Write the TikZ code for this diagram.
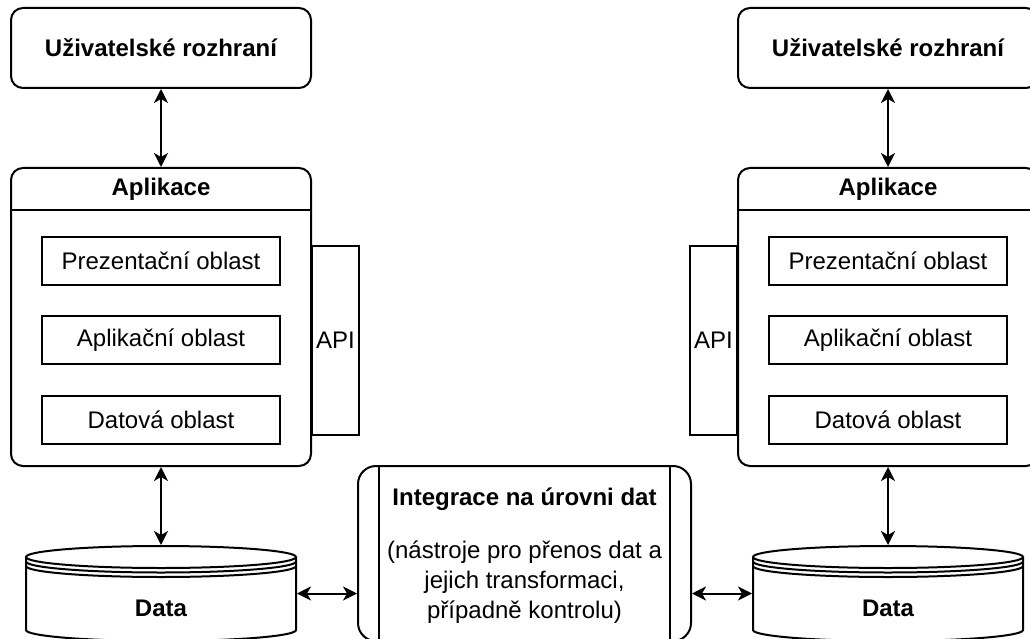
\documentclass[tikz,border=0pt]{standalone}
\usepackage{fontspec}
\setmainfont{Liberation Sans}
\usetikzlibrary{arrows.meta}

\tikzset{
	txt/.style={font=\fontsize{24}{30}\selectfont},
	bold/.style={font=\fontsize{24}{30}\selectfont\bfseries},
	uibox/.style={draw, bold, rounded corners=12pt, minimum width=300pt, minimum height=80pt},
	appbox/.style={draw, rounded corners=12pt, minimum width=300pt, minimum height=298pt},
	area/.style={draw, txt, minimum width=238pt, minimum height=48pt},
	apibox/.style={draw, txt, inner sep=0pt, minimum width=47pt, minimum height=189pt},
	store/.style={minimum width=270pt, minimum height=95pt},
	link/.style={<->, >={Stealth[length=14pt, width=14pt, inset=4pt]}}
}

\begin{document}
\begin{tikzpicture}[x=1pt, y=-1pt, line width=2pt]
				\useasboundingbox (0,0) rectangle (1030,639);
				\clip (0,0) rectangle (1030,639);

				\node[uibox] (ui1) at (161,48) {Uživatelské rozhraní};
				\node[appbox] (app1) at (161,317) {};
				\node[bold] (app1t) at (161,189) {Aplikace};
				\draw (app1.west |- 0,210) -- (app1.east |- 0,210);
				\node[area] (pres1) at (161,261) {Prezentační oblast};
				\node[area] (logic1) at (161,340) {Aplikační oblast};
				\node[area] (dat1) at (161,420) {Datová oblast};
				\node[apibox, anchor=west] (api1) at (311,340.5) {API};

				\node[store] (db1) at (161,593.5) {};
				\draw (26,557) -- (26,630) arc[start angle=180, end angle=0, x radius=135, y radius=11] -- (296,557);
				\draw (161,557) ellipse[x radius=135, y radius=11];
				\draw (26,561.5) arc[start angle=180, end angle=0, x radius=135, y radius=11];
				\draw (26,566) arc[start angle=180, end angle=0, x radius=135, y radius=11];
				\node[bold] (db1t) at (161,608) {Data};

				\node[uibox] (ui2) at (888,48) {Uživatelské rozhraní};
				\node[appbox] (app2) at (888,317) {};
				\node[bold] (app2t) at (888,189) {Aplikace};
				\draw (app2.west |- 0,210) -- (app2.east |- 0,210);
				\node[area] (pres2) at (888,261) {Prezentační oblast};
				\node[area] (logic2) at (888,340) {Aplikační oblast};
				\node[area] (dat2) at (888,420) {Datová oblast};
				\node[apibox, anchor=east] (api2) at (738,340.5) {API};

				\node[store] (db2) at (888,593.5) {};
				\draw (753,557) -- (753,630) arc[start angle=180, end angle=0, x radius=135, y radius=11] -- (1023,557);
				\draw (888,557) ellipse[x radius=135, y radius=11];
				\draw (753,561.5) arc[start angle=180, end angle=0, x radius=135, y radius=11];
				\draw (753,566) arc[start angle=180, end angle=0, x radius=135, y radius=11];
				\node[bold] (db2t) at (888,608) {Data};

				\node[draw, rounded corners=18pt, minimum width=333pt, minimum height=175pt] (integ) at (524.5,553.5) {};
				\draw ([xshift=22pt]integ.north west) -- ([xshift=22pt]integ.south west);
				\draw ([xshift=-22pt]integ.north east) -- ([xshift=-22pt]integ.south east);
				\node[bold, anchor=base] (integt) at (524.5,505) {Integrace na úrovni dat};
				\node[txt, align=center] (integb) at (524.5,582) {(nástroje pro přenos dat a\\jejich transformaci,\\případně kontrolu)};

				\draw[link] (ui1) -- (app1);
				\draw[link] (app1) -- (db1);
				\draw[link] (ui2) -- (app2);
				\draw[link] (app2) -- (db2);
				\draw[link] (db1.east) -- (integ.west |- db1.east);
				\draw[link] (integ.east |- db2.west) -- (db2.west);
\end{tikzpicture}
\end{document}
